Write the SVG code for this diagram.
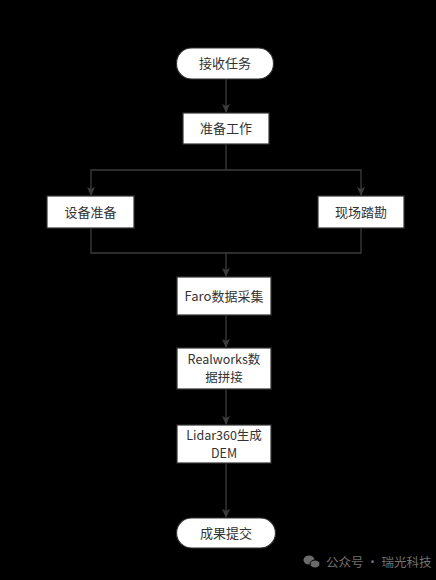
<svg xmlns="http://www.w3.org/2000/svg" width="436" height="580" viewBox="0 0 436 580">
<style>
.n{fill:#fff;stroke:#333;stroke-width:1.2}
.t{font-family:"Noto Sans CJK SC","Noto Sans",sans-serif;font-size:13px;fill:#333;text-anchor:middle}
.s{font-size:12.5px}
.e{fill:none;stroke:#3c3c3c;stroke-width:1.3}
</style>
<defs>
<marker id="a" markerWidth="10" markerHeight="10" refX="8" refY="5" orient="auto" markerUnits="userSpaceOnUse">
<path d="M0,1 L9,5 L0,9 L2,5 Z" fill="#3c3c3c"/>
</marker>
</defs>
<rect width="436" height="580" fill="#000"/>
<g id="connectors">
<path class="e" d="M226,79 V112" marker-end="url(#a)"/>
<path class="e" d="M226,144 V170 H91 V195" marker-end="url(#a)"/>
<path class="e" d="M226,170 H361 V195" marker-end="url(#a)"/>
<path class="e" d="M91,228 V253 H361 V228"/>
<path class="e" d="M226,253 V276" marker-end="url(#a)"/>
<path class="e" d="M226,315 V347" marker-end="url(#a)"/>
<path class="e" d="M226,389 V424" marker-end="url(#a)"/>
<path class="e" d="M226,463 V517" marker-end="url(#a)"/>
</g>
<g id="n1"><rect class="n" x="176.5" y="48" width="97" height="31" rx="15"/><text class="t" x="225" y="68">接收任务</text></g>
<g id="n2"><rect class="n" x="183" y="113" width="86" height="31"/><text class="t" x="226" y="133">准备工作</text></g>
<g id="n3"><rect class="n" x="47" y="196" width="87" height="32"/><text class="t" x="90.5" y="217">设备准备</text></g>
<g id="n4"><rect class="n" x="318" y="196" width="86" height="32"/><text class="t" x="361" y="217">现场踏勘</text></g>
<g id="n5"><rect class="n" x="177" y="277" width="94" height="38"/><text class="t" x="224" y="301">Faro数据采集</text></g>
<g id="n6"><rect class="n" x="177" y="348" width="94" height="41"/><text class="t s" x="224" y="364">Realworks数</text><text class="t s" x="224" y="382">据拼接</text></g>
<g id="n7"><rect class="n" x="177" y="425" width="94" height="38"/><text class="t s" x="224" y="440">Lidar360生成</text><text class="t s" x="224" y="458">DEM</text></g>
<g id="n8"><rect class="n" x="176.5" y="518" width="99" height="30" rx="15"/><text class="t" x="226" y="538">成果提交</text></g>
<g id="wm">
<ellipse cx="309" cy="560" rx="5.5" ry="4.5" fill="#6a6a6a"/>
<ellipse cx="315" cy="564" rx="5" ry="4" fill="#6a6a6a" stroke="#000" stroke-width="1"/>
<text x="326" y="567" font-family="Noto Sans CJK SC,sans-serif" font-size="12.5" fill="#707070">公众号 · 瑞光科技</text>
</g>
</svg>
